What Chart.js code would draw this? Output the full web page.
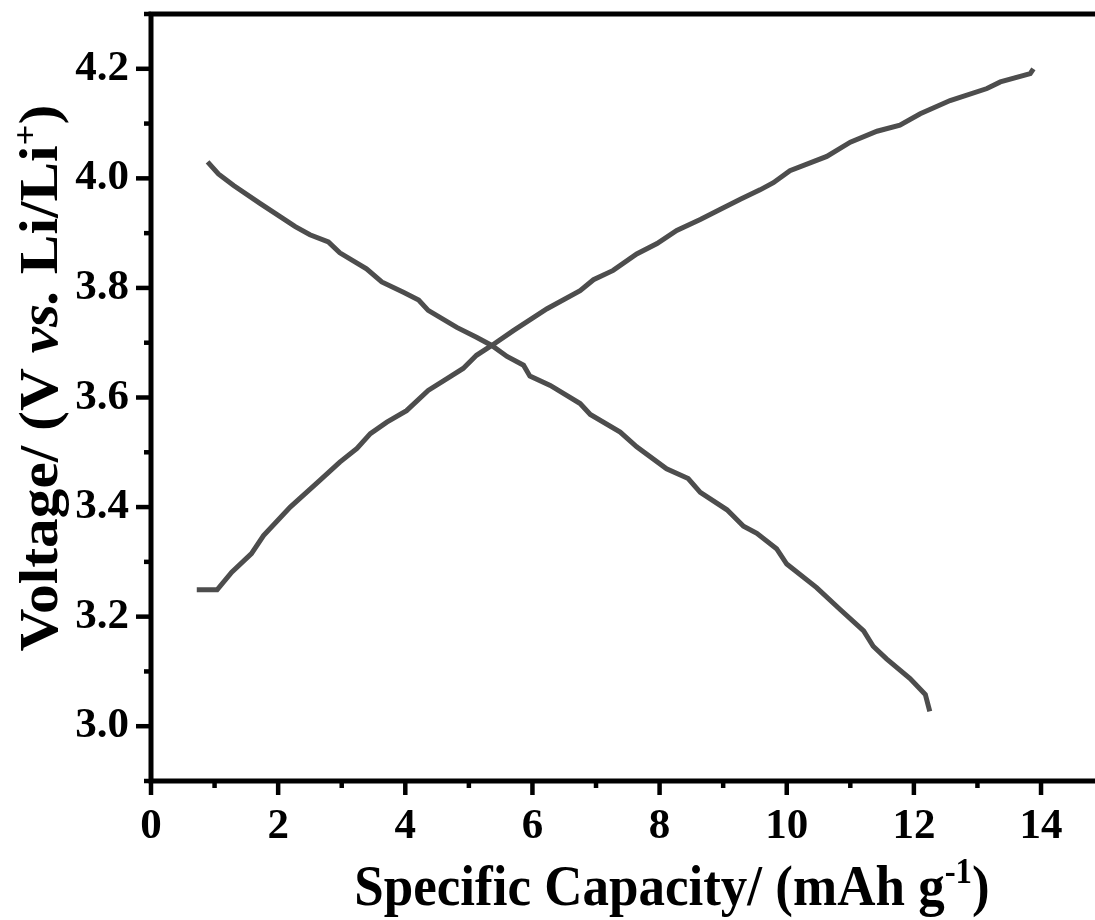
<!DOCTYPE html>
<html>
<head>
<meta charset="utf-8">
<script src="https://cdn.jsdelivr.net/npm/chart.js"></script>
<style>
  html, body { margin: 0; padding: 0; background: #fff; overflow: hidden; }
  #wrap { width: 1110px; height: 920px; }
</style>
</head>
<body>
<div id="wrap"><canvas id="myChart" width="1110" height="920"></canvas></div>
<script>
// Curva de carga (capacidade em mAh/g, tensão em V)
var chargeCapacity = [0.72, 1.04, 1.27, 1.58, 1.77, 2.19, 2.66, 2.97, 3.24, 3.45, 3.71, 4.02, 4.36, 4.65, 4.91, 5.12, 5.36, 5.70, 6.23, 6.75, 6.96, 7.27, 7.64, 7.96, 8.27, 8.64, 8.95, 9.27, 9.58, 9.79, 10.05, 10.63, 11.00, 11.42, 11.78, 12.10, 12.57, 13.15, 13.36, 13.83, 13.88];
var chargeVoltage = [3.249, 3.249, 3.281, 3.315, 3.348, 3.400, 3.449, 3.482, 3.507, 3.534, 3.555, 3.576, 3.613, 3.634, 3.653, 3.677, 3.695, 3.722, 3.762, 3.795, 3.815, 3.832, 3.862, 3.881, 3.905, 3.925, 3.943, 3.962, 3.979, 3.992, 4.014, 4.040, 4.066, 4.086, 4.097, 4.118, 4.142, 4.164, 4.176, 4.191, 4.200];

// Curva de descarga
var dischargeCapacity = [0.89, 1.06, 1.30, 1.72, 2.27, 2.50, 2.79, 2.97, 3.39, 3.63, 3.97, 4.21, 4.36, 4.81, 5.12, 5.36, 5.60, 5.86, 5.96, 6.28, 6.75, 6.91, 7.38, 7.64, 8.11, 8.45, 8.64, 9.06, 9.32, 9.53, 9.84, 10.00, 10.47, 10.84, 11.21, 11.36, 11.57, 11.94, 12.18, 12.25];
var dischargeVoltage = [4.030, 4.008, 3.987, 3.954, 3.912, 3.897, 3.884, 3.864, 3.835, 3.811, 3.792, 3.778, 3.759, 3.728, 3.710, 3.695, 3.675, 3.659, 3.639, 3.622, 3.589, 3.569, 3.537, 3.510, 3.470, 3.452, 3.427, 3.395, 3.365, 3.352, 3.324, 3.296, 3.253, 3.213, 3.174, 3.146, 3.123, 3.087, 3.058, 3.027];

// Rótulos dos eixos
var xTickLabels = ['0', '2', '4', '6', '8', '10', '12', '14'];
var yTickLabels = ['3.0', '3.2', '3.4', '3.6', '3.8', '4.0', '4.2'];

var lineColor = '#4d4d4d';
var serif = "'Liberation Serif', 'Times New Roman', serif";

function toPoints(xs, ys) {
  return xs.map(function (x, i) { return { x: x, y: ys[i] }; });
}

// Zera o espaço extra que o Chart.js reserva para os rótulos das pontas
function noLabelPadding(scale) {
  scale.paddingTop = 0;
  scale.paddingBottom = 0;
  scale.paddingLeft = 0;
  scale.paddingRight = 0;
}

// Desenha moldura e marcas dos eixos (maiores e menores)
var axisFrame = {
  id: 'axisFrame',
  afterDraw: function (chart) {
    var ctx = chart.ctx, a = chart.chartArea;
    var xs = chart.scales.x, ys = chart.scales.y;
    ctx.save();
    ctx.strokeStyle = '#000';
    ctx.lineWidth = 5;
    ctx.beginPath();
    ctx.rect(a.left, a.top, a.right - a.left, a.bottom - a.top);
    ctx.stroke();

    ctx.lineWidth = 4.5;
    xs.ticks.forEach(function (t) {
      var v = Math.round(t.value);
      if (Math.abs(t.value - v) > 1e-6) return;
      var px = xs.getPixelForValue(v);
      var len = v % 2 === 0 ? 14 : 7;
      ctx.beginPath();
      ctx.moveTo(px, a.bottom);
      ctx.lineTo(px, a.bottom + len);
      ctx.stroke();
    });
    ys.ticks.forEach(function (t) {
      var k = Math.round(t.value * 10);
      var py = ys.getPixelForValue(t.value);
      var len = k % 2 === 0 ? 15 : 7;
      ctx.beginPath();
      ctx.moveTo(a.left, py);
      ctx.lineTo(a.left - len, py);
      ctx.stroke();
    });
    ctx.restore();
  }
};

// Títulos com sobrescrito e itálico
function drawParts(ctx, parts, size) {
  var total = 0;
  parts.forEach(function (p) {
    var s = p.sup ? size * 0.62 : size;
    ctx.font = (p.italic ? 'italic ' : '') + 'bold ' + s + 'px ' + serif;
    p.w = ctx.measureText(p.t).width;
    total += p.w;
  });
  var x = -total / 2;
  parts.forEach(function (p) {
    var s = p.sup ? size * 0.62 : size;
    ctx.font = (p.italic ? 'italic ' : '') + 'bold ' + s + 'px ' + serif;
    ctx.fillText(p.t, x, p.sup ? -size * 0.38 : 0);
    x += p.w;
  });
}

var axisTitles = {
  id: 'axisTitles',
  afterDraw: function (chart) {
    var ctx = chart.ctx;
    ctx.save();
    ctx.fillStyle = '#000';
    ctx.textBaseline = 'alphabetic';
    ctx.textAlign = 'left';
    ctx.translate(672, 905);
    ctx.scale(1, 1.08);
    drawParts(ctx, [
      { t: 'Specific Capacity/ (mAh g' },
      { t: '-1', sup: true },
      { t: ')' }
    ], 53);
    ctx.restore();

    ctx.save();
    ctx.fillStyle = '#000';
    ctx.textBaseline = 'alphabetic';
    ctx.textAlign = 'left';
    ctx.translate(57, 378);
    ctx.rotate(-Math.PI / 2);
    ctx.scale(1.1, 1);
    drawParts(ctx, [
      { t: 'Voltage/ (V ' },
      { t: 'vs.', italic: true },
      { t: ' Li/Li' },
      { t: '+', sup: true },
      { t: ')' }
    ], 54);
    ctx.restore();
  }
};

var ctx = document.getElementById('myChart').getContext('2d');

var config = {
  type: 'scatter',
  data: {
    datasets: [
      {
        label: 'Carga',
        data: toPoints(chargeCapacity, chargeVoltage),
        showLine: true,
        borderColor: lineColor,
        borderWidth: 5,
        pointRadius: 0,
        tension: 0
      },
      {
        label: 'Descarga',
        data: toPoints(dischargeCapacity, dischargeVoltage),
        showLine: true,
        borderColor: lineColor,
        borderWidth: 5,
        pointRadius: 0,
        tension: 0
      }
    ]
  },
  options: {
    responsive: false,
    animation: false,
    devicePixelRatio: 1,
    layout: { padding: { top: 14, right: 5.4, left: 0, bottom: 0 } },
    plugins: {
      legend: { display: false },
      tooltip: { enabled: false }
    },
    scales: {
      x: {
        type: 'linear',
        min: 0,
        max: 15,
        grid: { display: false, drawTicks: false },
        border: { display: false },
        afterFit: function (scale) { scale.height = 139; noLabelPadding(scale); },
        ticks: {
          stepSize: 1,
          autoSkip: false,
          maxRotation: 0,
          padding: 20,
          color: '#000',
          font: { family: serif, size: 43, weight: 'bold' },
          callback: function (v) {
            var r = Math.round(v);
            if (Math.abs(v - r) > 1e-6 || r % 2 !== 0) return '';
            return xTickLabels[r / 2] || '';
          }
        }
      },
      y: {
        type: 'linear',
        min: 2.9,
        max: 4.3,
        grid: { display: false, drawTicks: false },
        border: { display: false },
        afterFit: function (scale) { scale.width = 151; noLabelPadding(scale); },
        ticks: {
          stepSize: 0.1,
          autoSkip: false,
          padding: 22,
          color: '#000',
          font: { family: serif, size: 43, weight: 'bold' },
          callback: function (v) {
            var k = Math.round(v * 10);
            if (k % 2 !== 0) return '';
            var i = (k - 30) / 2;
            return yTickLabels[i] || '';
          }
        }
      }
    }
  },
  plugins: [axisFrame, axisTitles]
};

var chart = new Chart(ctx, config);
</script>
</body>
</html>
